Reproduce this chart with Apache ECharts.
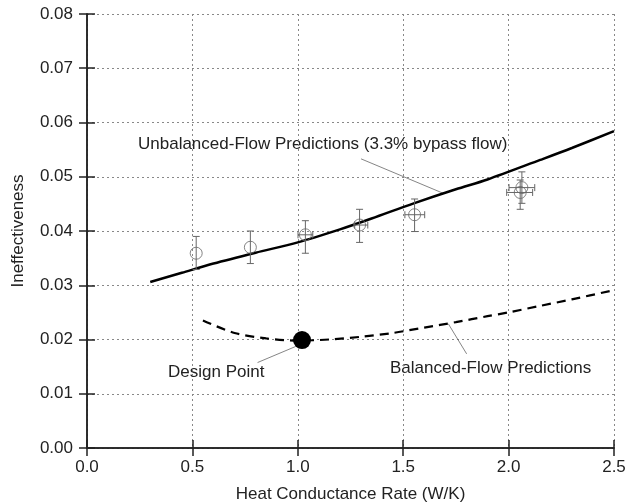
<!DOCTYPE html>
<html>
<head>
    <meta charset="utf-8" />
    <title>Ineffectiveness vs Heat Conductance Rate</title>
    <script src="https://cdn.jsdelivr.net/npm/echarts@6/dist/echarts.min.js"></script>
    <style type="text/css">
        html, body { margin: 0; padding: 0; background: #fff; }
        #main { width: 628px; height: 502px; }
    </style>
</head>
<body>
<div id="main"></div>
<script type="text/javascript">
    // measured points (circles) with error bars
    var ptX    = [0.518, 0.775, 1.036, 1.293, 1.554, 2.063, 2.055];
    var ptY    = [0.0359, 0.0370, 0.0393, 0.0411, 0.0430, 0.0480, 0.0471];
    var errYLo = [0.0329, 0.0340, 0.0359, 0.0379, 0.0399, 0.0451, 0.0440];
    var errYHi = [0.0390, 0.0400, 0.0419, 0.0440, 0.0459, 0.0509, 0.0494];
    var errXLo = [0.518, 0.775, 1.001, 1.270, 1.508, 2.002, 1.991];
    var errXHi = [0.518, 0.775, 1.071, 1.332, 1.602, 2.124, 2.114];

    // unbalanced-flow prediction (solid)
    var unbalX = [0.30, 0.45, 0.60, 0.80, 1.00, 1.20, 1.35, 1.55, 1.75, 1.90, 2.15, 2.30, 2.50];
    var unbalY = [0.0306, 0.0323, 0.0340, 0.0360, 0.0379, 0.0403, 0.0423, 0.0451, 0.0477, 0.0495, 0.0531, 0.0553, 0.0584];

    // balanced-flow prediction (dashed)
    var balX = [0.55, 0.70, 0.85, 1.00, 1.15, 1.30, 1.45, 1.60, 1.75, 1.90, 2.00, 2.15, 2.30, 2.50];
    var balY = [0.0235, 0.0212, 0.0202, 0.0198, 0.0200, 0.0205, 0.0212, 0.0222, 0.0232, 0.0243, 0.0250, 0.0262, 0.0274, 0.0291];

    var designPoint = [1.020, 0.0199];

    // leader lines for the annotations (data coords)
    var leaderUnbal  = [[1.300, 0.0533], [1.693, 0.0469]];
    var leaderDesign = [[0.809, 0.01575], [0.989, 0.0187]];
    var leaderBal    = [[1.801, 0.01735], [1.714, 0.0229]];

    var font = 'Liberation Sans, Arial, sans-serif';
    var txt = '#222';
    var fs = 17;

    function zip(a, b) {
        return a.map(function (v, i) { return [v, b[i]]; });
    }

    var errData = ptX.map(function (x, i) {
        return [x, ptY[i], errYLo[i], errYHi[i], errXLo[i], errXHi[i]];
    });

    function renderErr(params, api) {
        var x = api.value(0), y = api.value(1);
        var lo = api.coord([x, api.value(2)]);
        var hi = api.coord([x, api.value(3)]);
        var cap = 3.5;
        var st = { stroke: '#666', lineWidth: 1 };
        var kids = [
            { type: 'line', shape: { x1: lo[0], y1: lo[1], x2: hi[0], y2: hi[1] }, style: st },
            { type: 'line', shape: { x1: lo[0] - cap, y1: lo[1], x2: lo[0] + cap, y2: lo[1] }, style: st },
            { type: 'line', shape: { x1: hi[0] - cap, y1: hi[1], x2: hi[0] + cap, y2: hi[1] }, style: st }
        ];
        if (api.value(5) > api.value(4)) {
            var l = api.coord([api.value(4), y]);
            var r = api.coord([api.value(5), y]);
            kids.push({ type: 'line', shape: { x1: l[0], y1: l[1], x2: r[0], y2: r[1] }, style: st });
            kids.push({ type: 'line', shape: { x1: l[0], y1: l[1] - cap, x2: l[0], y2: l[1] + cap }, style: st });
            kids.push({ type: 'line', shape: { x1: r[0], y1: r[1] - cap, x2: r[0], y2: r[1] + cap }, style: st });
        }
        return { type: 'group', children: kids };
    }

    function leader(d) {
        return {
            type: 'line', data: d, symbol: 'none', silent: true,
            lineStyle: { color: '#666', width: 0.8 }, z: 1
        };
    }

    var axisLine = { show: true, lineStyle: { color: '#222', width: 1.5 } };
    var tick = { show: true, inside: true, length: 8, lineStyle: { color: '#222', width: 1.5 } };
    var grid = { show: true, lineStyle: { color: '#888', width: 1, type: [2, 3] } };

    var myChart = echarts.init(document.getElementById('main'));

    var option = {
        animation: false,
        backgroundColor: '#fff',
        textStyle: { fontFamily: font },
        grid: { left: 87, right: 14, top: 14, bottom: 54, containLabel: false, outerBoundsMode: 'none' },
        xAxis: [{
            type: 'value', min: 0, max: 2.5, interval: 0.5,
            name: 'Heat Conductance Rate (W/K)', nameLocation: 'middle', nameGap: 38,
            nameTextStyle: { fontSize: fs, color: txt, fontFamily: font },
            axisLine: axisLine, axisTick: tick, splitLine: grid,
            axisLabel: {
                fontSize: fs, color: txt, margin: 11, fontFamily: font,
                formatter: function (v) { return v.toFixed(1); }
            }
        }, {
            type: 'value', min: 0, max: 2.5, interval: 0.5, position: 'top',
            axisLine: axisLine, axisTick: tick, splitLine: { show: false },
            axisLabel: { show: false }
        }],
        yAxis: [{
            type: 'value', min: 0, max: 0.08, interval: 0.01,
            name: 'Ineffectiveness', nameLocation: 'middle', nameGap: 60,
            nameTextStyle: { fontSize: fs, color: txt, fontFamily: font },
            axisLine: axisLine, axisTick: tick, splitLine: grid,
            axisLabel: {
                fontSize: fs, color: txt, margin: 14, fontFamily: font,
                formatter: function (v) { return v.toFixed(2); }
            }
        }, {
            type: 'value', min: 0, max: 0.08, interval: 0.01, position: 'right',
            axisLine: axisLine, axisTick: tick, splitLine: { show: false },
            axisLabel: { show: false }
        }],
        series: [
            {
                type: 'line', data: zip(unbalX, unbalY), symbol: 'none', smooth: 0.3,
                lineStyle: { color: '#000', width: 2.5 }, z: 3
            },
            {
                type: 'line', data: zip(balX, balY), symbol: 'none', smooth: 0.3,
                lineStyle: { color: '#000', width: 2.2, type: [9, 6] }, z: 3
            },
            leader(leaderUnbal),
            leader(leaderDesign),
            leader(leaderBal),
            {
                type: 'custom', data: errData, renderItem: renderErr,
                encode: { x: 0, y: 1 }, z: 4
            },
            {
                type: 'scatter', data: zip(ptX, ptY), symbol: 'circle', symbolSize: 12,
                itemStyle: { color: 'rgba(0,0,0,0)', borderColor: '#666', borderWidth: 1 }, z: 5
            },
            {
                type: 'scatter', data: [designPoint], symbol: 'circle', symbolSize: 18,
                itemStyle: { color: '#000', opacity: 1 }, z: 6
            }
        ],
        graphic: [
            { type: 'text', left: 138, top: 136, style: { text: 'Unbalanced-Flow Predictions (3.3% bypass flow)', font: fs + 'px ' + font, fill: txt } },
            { type: 'text', left: 168, top: 364, style: { text: 'Design Point', font: fs + 'px ' + font, fill: txt } },
            { type: 'text', left: 390, top: 360, style: { text: 'Balanced-Flow Predictions', font: fs + 'px ' + font, fill: txt } }
        ]
    };

    myChart.setOption(option);
</script>
</body>
</html>
